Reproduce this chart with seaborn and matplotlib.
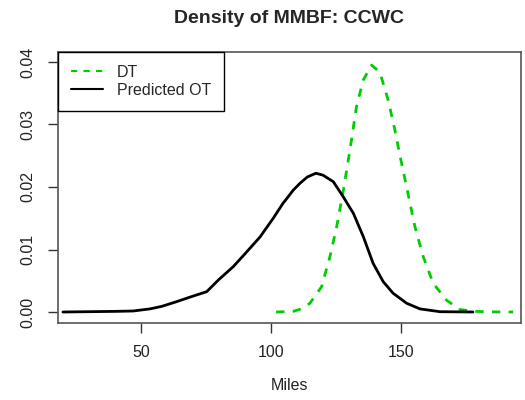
import matplotlib
matplotlib.use('Agg')
import matplotlib.pyplot as plt
import seaborn as sns

# =========================
# Dados
# =========================
ot_x = [20, 30, 40, 47, 53.5, 58, 63.7, 69, 75.3, 80, 85.5, 90, 95.8, 100.9, 104.5,
        108.6, 111.2, 114, 117.3, 120, 124, 127.8, 131.7, 135.5, 139.3, 143.2, 147,
        152.2, 157.3, 165, 177.7]
ot_y = [0.0, 0.00005, 0.0001, 0.00016, 0.0005, 0.0009, 0.00165, 0.0024, 0.00325,
        0.0052, 0.00725, 0.0093, 0.012, 0.015, 0.0173, 0.0195, 0.0206, 0.0216,
        0.0222, 0.0219, 0.02085, 0.01845, 0.0158, 0.0121, 0.0078, 0.00485, 0.003,
        0.0014, 0.0005, 0.00005, 0.0]

dt_x = [102, 108.6, 112.4, 115, 119.5, 122.7, 125.3, 127.8, 130.4, 132.9, 135.5,
        138.7, 141.9, 145.1, 147.7, 149.6, 152.2, 155.4, 158.6, 162.4, 167.5, 172.7,
        178, 185, 193.2]
dt_y = [0.0, 0.0001, 0.0006, 0.0014, 0.00405, 0.00885, 0.01365, 0.0193, 0.0259,
        0.0328, 0.0371, 0.0395, 0.0384, 0.0339, 0.0291, 0.0251, 0.0200, 0.01365,
        0.00885, 0.0046, 0.0019, 0.0004, 0.0001, 0.00002, 0.0]

x_ticks = [50, 100, 150]
y_ticks = [0.00, 0.01, 0.02, 0.03, 0.04]
y_tick_labels = ['0.00', '0.01', '0.02', '0.03', '0.04']

# =========================
# Estilo
# =========================
sns.set_style('white')
plt.rcParams['font.family'] = ['Liberation Sans', 'DejaVu Sans']

fig = plt.figure(figsize=(5.25, 4), dpi=100)
ax = fig.add_axes([58 / 525, 77 / 400, 463 / 525, 271 / 400])

sns.lineplot(x=dt_x, y=dt_y, ax=ax, color='#00CD00', linewidth=2,
             linestyle=(0, (3, 3)), label='DT', sort=False)
sns.lineplot(x=ot_x, y=ot_y, ax=ax, color='black', linewidth=2,
             label='Predicted OT', sort=False)

ax.set_xlim(18.1, 196.2)
ax.set_ylim(-0.00176, 0.0416)
ax.set_xticks(x_ticks)
ax.set_yticks(y_ticks)
ax.set_yticklabels(y_tick_labels, rotation=90, va='center')
ax.tick_params(axis='both', direction='out', length=7, width=1, color='#333333',
               labelsize=11.5, pad=9, labelcolor='#222222', bottom=True, left=True)

for s in ax.spines.values():
    s.set_color('#555555')
    s.set_linewidth(1.2)

ax.set_title('Density of MMBF: CCWC', fontsize=14, fontweight='bold', pad=21)
ax.set_xlabel('Miles', fontsize=11.5, labelpad=13, color='#222222')
ax.set_ylabel('')

leg = ax.legend(loc='upper left', borderaxespad=0, fontsize=11.5, handlelength=2.0,
                handletextpad=0.9, fancybox=False, framealpha=1, borderpad=0.8,
                labelspacing=0.2)
leg.get_frame().set_edgecolor('black')
leg.get_frame().set_linewidth(1)
for ln in leg.get_lines():
    ln.set_linewidth(1.5)

plt.savefig('out.png', dpi=100)
